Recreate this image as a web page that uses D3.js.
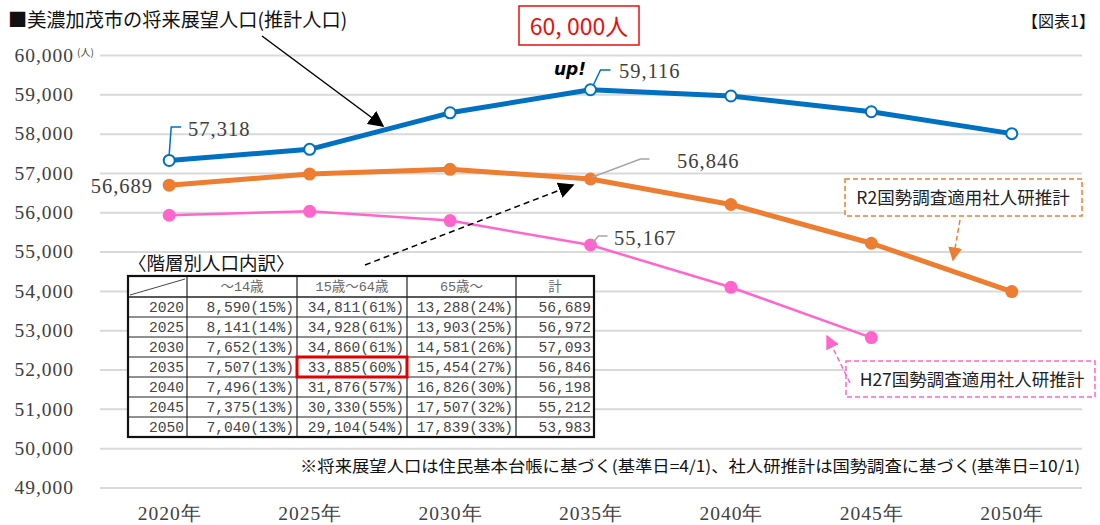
<!DOCTYPE html>
<html>
<head>
<meta charset="utf-8">
<script src="https://cdn.jsdelivr.net/npm/d3@7"></script>
<style>
  body { margin: 0; background: #fff; }
  svg { display: block; }
  .serif { font-family: "Liberation Serif", "DejaVu Serif", serif; letter-spacing: 1px; }
  .jp { font-family: "Noto Sans CJK JP", sans-serif; }
  .cell { font-family: "Liberation Mono", "Noto Sans CJK JP", monospace; }
</style>
</head>
<body>
<div id="chart"></div>
<script>
var years = [2020, 2025, 2030, 2035, 2040, 2045, 2050];
var yTicks = [49000, 50000, 51000, 52000, 53000, 54000, 55000, 56000, 57000, 58000, 59000, 60000];

// 将来展望人口 (blue)
var vision = [57318, 57600, 58530, 59116, 58957, 58557, 58000];
// R2国勢調査適用社人研推計 (orange)
var r2 = [56689, 56972, 57093, 56846, 56198, 55212, 53983];
// H27国勢調査適用社人研推計 (pink), no 2050
var h27 = [55924, 56025, 55789, 55167, 54092, 52812];

// table
var tableHead = ["", "～14歳", "15歳～64歳", "65歳～", "計"];
var young = [8590, 8141, 7652, 7507, 7496, 7375, 7040];
var youngPct = [15, 14, 13, 13, 13, 13, 13];
var working = [34811, 34928, 34860, 33885, 31876, 30330, 29104];
var workingPct = [61, 61, 61, 60, 57, 55, 54];
var old = [13288, 13903, 14581, 15454, 16826, 17507, 17839];
var oldPct = [24, 25, 26, 27, 30, 32, 33];

var W = 1100, H = 525;
var svg = d3.select("#chart").append("svg").attr("width", W).attr("height", H);

var x = d3.scalePoint().domain(years).range([99, 1082]).padding(0.5);
var y = d3.scaleLinear().domain([49000, 60000]).range([487.5, 55]);
var fmt = d3.format(",");

var defs = svg.append("defs");
function marker(id, color, size) {
  defs.append("marker").attr("id", id)
    .attr("viewBox", "0 0 10 10").attr("refX", 9).attr("refY", 5)
    .attr("markerWidth", size).attr("markerHeight", size)
    .attr("markerUnits", "userSpaceOnUse")
    .attr("orient", "auto")
    .append("path").attr("d", "M0,0 L10,5 L0,10 Z").attr("fill", color);
}
marker("arrBlack", "#000", 16);
marker("arrOrange", "#ED7D31", 14);
marker("arrPink", "#FF66CC", 14);

// grid + y labels
var yAxis = svg.append("g").attr("transform", "translate(100,0)")
  .call(d3.axisLeft(y).tickValues(yTicks).tickSize(-982).tickPadding(26).tickFormat(fmt));
yAxis.select(".domain").remove();
yAxis.selectAll(".tick line").attr("stroke", "#d9d9d9").attr("stroke-width", 2);
yAxis.selectAll(".tick text").attr("class", "serif").attr("font-size", 19.5).attr("fill", "#404040");

svg.append("text").attr("class", "jp").attr("x", 77).attr("y", 56)
  .attr("font-size", 10).attr("fill", "#404040").text("(人)");

// x labels
var xAxis = svg.append("g").attr("transform", "translate(0,500)")
  .call(d3.axisBottom(x).tickSize(0).tickPadding(6).tickFormat(function(d){ return d + "年"; }));
xAxis.select(".domain").remove();
xAxis.selectAll(".tick text").attr("class", "serif").attr("font-size", 19.5).attr("fill", "#404040");

// lines
function drawSeries(vals, color, width, hollow) {
  var pts = vals.map(function(v, i){ return [years[i], v]; });
  svg.append("path").datum(pts)
    .attr("fill", "none").attr("stroke", color).attr("stroke-width", width)
    .attr("stroke-linejoin", "round")
    .attr("d", d3.line().x(function(d){ return x(d[0]); }).y(function(d){ return y(d[1]); }));
  svg.selectAll(null).data(pts).enter().append("circle")
    .attr("cx", function(d){ return x(d[0]); })
    .attr("cy", function(d){ return y(d[1]); })
    .attr("r", hollow ? 5.5 : 6.5)
    .attr("fill", hollow ? "#fff" : color)
    .attr("stroke", color).attr("stroke-width", hollow ? 2 : 0);
}
drawSeries(h27, "#FF66CC", 2.5, false);
drawSeries(r2, "#ED7D31", 5, false);
drawSeries(vision, "#0070C0", 5, true);

// data labels with leaders
function leader(pts, color) {
  svg.append("path").attr("d", d3.line()(pts)).attr("fill", "none")
    .attr("stroke", color).attr("stroke-width", 1.5);
}
function valLabel(tx, ty, v, anchor) {
  svg.append("text").attr("class", "serif").attr("x", tx).attr("y", ty)
    .attr("dy", "0.35em").attr("font-size", 20.5).attr("fill", "#404040")
    .attr("text-anchor", anchor || "start").text(fmt(v));
}
var bx = x(2020), by = y(vision[0]);
leader([[bx, by - 6], [bx + 2, 127], [bx + 12, 127]], "#0070C0");
valLabel(188, 129, vision[0]);

bx = x(2035); by = y(vision[3]);
leader([[bx + 3, by - 5], [bx + 10, 70], [bx + 20, 70]], "#0070C0");
valLabel(619, 71, vision[3]);

bx = x(2035); by = y(r2[3]);
leader([[bx + 2, by - 2], [bx + 50, 159], [bx + 59, 159]], "#A6A6A6");
valLabel(677, 161, r2[3]);

by = y(h27[3]);
leader([[bx + 1, by - 1], [bx + 8, 236], [bx + 17, 236]], "#A6A6A6");
valLabel(614, 238, h27[3]);

valLabel(153, 186, r2[0], "end");

// title
svg.append("text").attr("class", "jp").attr("x", 8).attr("y", 27)
  .attr("font-size", 19.2).attr("fill", "#111").text("■美濃加茂市の将来展望人口(推計人口)");
svg.append("text").attr("class", "jp").attr("x", 1095).attr("y", 27)
  .attr("text-anchor", "end").attr("font-size", 16).attr("fill", "#111").text("【図表1】");

svg.append("rect").attr("x", 519).attr("y", 6).attr("width", 120).attr("height", 39)
  .attr("fill", "#fff").attr("stroke", "#E81010").attr("stroke-width", 1.5);
svg.append("text").attr("class", "jp").attr("x", 579).attr("y", 35)
  .attr("text-anchor", "middle").attr("font-size", 23).attr("fill", "#E81010").text("60, 000人");

svg.append("text").attr("x", 554).attr("y", 75)
  .attr("font-family", "DejaVu Sans, sans-serif").attr("font-weight", "bold").attr("font-style", "italic")
  .attr("font-size", 17).attr("fill", "#000").text("up!");

// black title arrow
svg.append("line").attr("x1", 262).attr("y1", 36).attr("x2", 383).attr("y2", 126)
  .attr("stroke", "#000").attr("stroke-width", 1.5).attr("marker-end", "url(#arrBlack)");

// table
var tx0 = 128, colX = [128, 187, 297, 407, 516, 594];
var headTop = 276, headH = 21, rowH = 20;
var tTop = headTop, tBottom = headTop + headH + rowH * years.length;

svg.append("text").attr("class", "jp").attr("x", 128).attr("y", 270)
  .attr("font-size", 18.5).attr("fill", "#111").text("〈階層別人口内訳〉");

var tbl = svg.append("g");
tbl.append("rect").attr("x", tx0).attr("y", tTop).attr("width", colX[5] - tx0)
  .attr("height", tBottom - tTop).attr("fill", "#fff");
colX.slice(1, 5).forEach(function(cx){
  tbl.append("line").attr("x1", cx).attr("x2", cx).attr("y1", tTop).attr("y2", tBottom)
    .attr("stroke", "#222").attr("stroke-width", 1.2);
});
for (var r = 0; r < years.length; r++) {
  var ly = headTop + headH + r * rowH;
  tbl.append("line").attr("x1", tx0).attr("x2", colX[5]).attr("y1", ly).attr("y2", ly)
    .attr("stroke", "#222").attr("stroke-width", r === 0 ? 1.5 : 1.2);
}
tbl.append("line").attr("x1", tx0 + 2).attr("y1", headTop + headH - 2)
  .attr("x2", colX[1] - 2).attr("y2", headTop + 3).attr("stroke", "#444").attr("stroke-width", 1);
tbl.append("rect").attr("x", tx0).attr("y", tTop).attr("width", colX[5] - tx0)
  .attr("height", tBottom - tTop).attr("fill", "none").attr("stroke", "#111").attr("stroke-width", 2.2);

tableHead.forEach(function(h, i){
  if (!h) return;
  tbl.append("text").attr("class", "cell").attr("x", (colX[i] + colX[i + 1]) / 2)
    .attr("y", headTop + headH / 2).attr("dy", "0.35em").attr("text-anchor", "middle")
    .attr("font-size", 13.5).attr("fill", "#666").text(h);
});
years.forEach(function(yr, r){
  var cy = headTop + headH + r * rowH + rowH / 2;
  var cells = [
    String(yr),
    fmt(young[r]) + "(" + youngPct[r] + "%)",
    fmt(working[r]) + "(" + workingPct[r] + "%)",
    fmt(old[r]) + "(" + oldPct[r] + "%)",
    fmt(r2[r])
  ];
  cells.forEach(function(c, i){
    tbl.append("text").attr("class", "cell").attr("x", colX[i + 1] - 3).attr("y", cy)
      .attr("dy", "0.36em").attr("text-anchor", "end")
      .attr("font-size", 14.6).attr("fill", "#444").text(c);
  });
});
// highlight 2035 working-age cell
var hr = years.indexOf(2035);
tbl.append("rect").attr("x", colX[2]).attr("y", headTop + headH + hr * rowH)
  .attr("width", colX[3] - colX[2]).attr("height", rowH)
  .attr("fill", "none").attr("stroke", "#E00000").attr("stroke-width", 3);

// dashed black arrow from table to 2035
svg.append("line").attr("x1", 365).attr("y1", 265).attr("x2", 573).attr("y2", 185)
  .attr("stroke", "#000").attr("stroke-width", 1.5).attr("stroke-dasharray", "6,4")
  .attr("marker-end", "url(#arrBlack)");

// legend boxes
svg.append("rect").attr("x", 845).attr("y", 179).attr("width", 237).attr("height", 37)
  .attr("fill", "#fff").attr("stroke", "#ED7D31").attr("stroke-width", 1.5).attr("stroke-dasharray", "5,3");
svg.append("text").attr("class", "jp").attr("x", 963).attr("y", 198).attr("dy", "0.35em")
  .attr("text-anchor", "middle").attr("font-size", 17.5).attr("fill", "#222").text("R2国勢調査適用社人研推計");
svg.append("line").attr("x1", 960).attr("y1", 220).attr("x2", 953).attr("y2", 260)
  .attr("stroke", "#ED7D31").attr("stroke-width", 1.5).attr("stroke-dasharray", "5,3")
  .attr("marker-end", "url(#arrOrange)");

svg.append("rect").attr("x", 846).attr("y", 361).attr("width", 249).attr("height", 36)
  .attr("fill", "#fff").attr("stroke", "#FF66CC").attr("stroke-width", 1.5).attr("stroke-dasharray", "5,3");
svg.append("text").attr("class", "jp").attr("x", 972).attr("y", 380).attr("dy", "0.35em")
  .attr("text-anchor", "middle").attr("font-size", 17.5).attr("fill", "#222").text("H27国勢調査適用社人研推計");
svg.append("line").attr("x1", 850).attr("y1", 383).attr("x2", 827).attr("y2", 336)
  .attr("stroke", "#FF66CC").attr("stroke-width", 1.5).attr("stroke-dasharray", "5,3")
  .attr("marker-end", "url(#arrPink)");

// footnote
svg.append("text").attr("class", "jp").attr("x", 300).attr("y", 466).attr("dy", "0.35em")
  .attr("font-size", 16).attr("fill", "#111")
  .attr("textLength", 780).attr("lengthAdjust", "spacingAndGlyphs")
  .text("※将来展望人口は住民基本台帳に基づく(基準日=4/1)、社人研推計は国勢調査に基づく(基準日=10/1)");
</script>
</body>
</html>
